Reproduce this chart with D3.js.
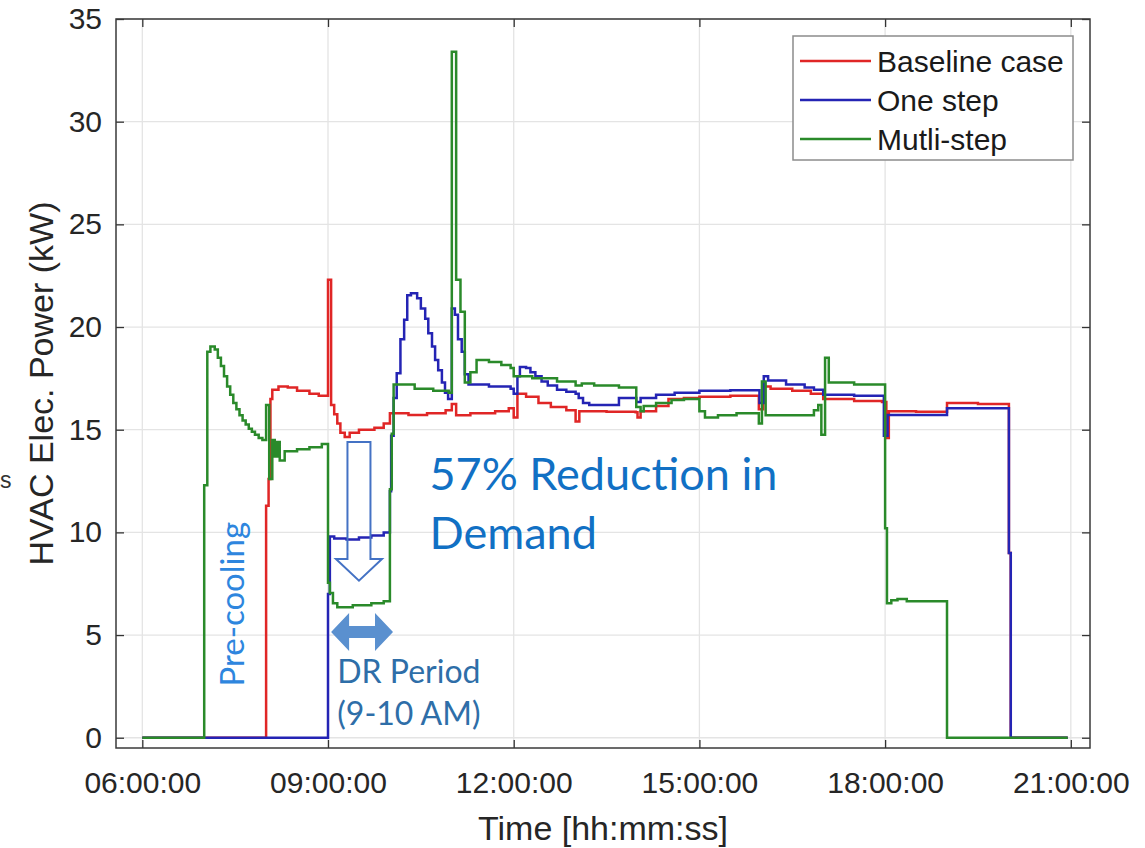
<!DOCTYPE html>
<html>
<head>
<meta charset="utf-8">
<script src="https://cdn.jsdelivr.net/npm/d3@7"></script>
<style>
  body { margin: 0; background: #fff; }
  .axis text { font-family: "Liberation Sans", Arial, sans-serif; font-size: 30px; fill: #262626; }
  .axis line { stroke: #333; stroke-width: 1.3; }
  .axis path { display: none; }
</style>
</head>
<body>
<svg id="chart" width="1145" height="848"></svg>
<script>
// x in hours of the day, y in kW
const hourTicks = [6, 9, 12, 15, 18, 21];
const kwTicks = [0, 5, 10, 15, 20, 25, 30, 35];
const seriesNames = ['Baseline case', 'One step', 'Mutli-step'];

const baseline = [
  [6.00, 0], [8.00, 11.3], [8.04, 12.6], [8.07, 16.5], [8.10, 16.95], [8.20, 17.1], [8.35, 17.05],
  [8.50, 16.9], [8.70, 16.75], [8.85, 16.65], [9.00, 22.3], [9.05, 16.2], [9.10, 15.75], [9.15, 15.3],
  [9.20, 14.85], [9.27, 14.65], [9.35, 14.85], [9.50, 15.0], [9.75, 15.1], [9.90, 15.3], [10.00, 15.8],
  [10.30, 15.72], [10.60, 15.8], [10.90, 15.95], [11.00, 16.25], [11.07, 15.7], [11.30, 15.8],
  [11.70, 15.9], [11.92, 16.05], [12.00, 15.6], [12.06, 16.75], [12.20, 16.6], [12.40, 16.3],
  [12.60, 16.1], [12.85, 15.95], [13.00, 15.4], [13.06, 15.9], [13.50, 15.88], [13.97, 15.85],
  [14.00, 15.6], [14.05, 15.9], [14.30, 16.15], [14.50, 16.5], [14.75, 16.55], [15.00, 16.6],
  [15.50, 16.65], [15.96, 16.0], [16.03, 17.1], [16.15, 17.0], [16.50, 16.9], [16.80, 16.75],
  [17.00, 16.5], [17.50, 16.4], [17.95, 16.35], [18.02, 14.6], [18.06, 15.9], [18.50, 15.88],
  [19.00, 16.3], [19.50, 16.25], [20.00, 9.0], [20.03, 0], [20.95, 0]
];

const oneStep = [
  [6.00, 0], [9.00, 7.0], [9.03, 9.8], [9.10, 9.7], [9.30, 9.65], [9.50, 9.75], [9.70, 9.85],
  [9.90, 10.0], [10.00, 12.0], [10.02, 14.7], [10.06, 16.55], [10.11, 17.75], [10.17, 19.4],
  [10.23, 20.35], [10.28, 21.55], [10.34, 21.65], [10.44, 21.4], [10.50, 20.9], [10.57, 20.4],
  [10.62, 19.7], [10.68, 19.05], [10.73, 18.4], [10.78, 17.9], [10.84, 17.3], [10.89, 16.8],
  [10.94, 16.5], [11.00, 20.9], [11.05, 20.6], [11.10, 19.4], [11.16, 18.8], [11.21, 17.7],
  [11.27, 17.2], [11.60, 17.1], [11.95, 17.0], [12.00, 16.75], [12.06, 17.6], [12.10, 18.05],
  [12.20, 18.0], [12.27, 17.8], [12.35, 17.6], [12.45, 17.35], [12.55, 17.15], [12.70, 16.95],
  [12.85, 16.85], [13.00, 16.75], [13.05, 16.55], [13.12, 16.3], [13.22, 16.2], [13.70, 16.55],
  [13.98, 16.35], [14.05, 16.55], [14.30, 16.7], [14.60, 16.8], [15.00, 16.9], [15.50, 16.92],
  [15.97, 16.3], [16.04, 17.6], [16.11, 17.4], [16.40, 17.2], [16.70, 17.05], [16.85, 16.95],
  [17.00, 16.7], [17.50, 16.65], [17.98, 14.7], [18.04, 15.72], [19.00, 16.05], [20.00, 9.0],
  [20.03, 0], [20.95, 0]
];

const multiStep = [
  [6.00, 0], [7.00, 12.3], [7.05, 18.8], [7.10, 19.05], [7.17, 18.9], [7.22, 18.5], [7.27, 18.1],
  [7.32, 17.6], [7.37, 17.1], [7.42, 16.7], [7.47, 16.3], [7.52, 16.0], [7.57, 15.7], [7.62, 15.45],
  [7.67, 15.25], [7.72, 15.05], [7.77, 14.9], [7.82, 14.75], [7.88, 14.6], [7.94, 14.5], [8.00, 16.2],
  [8.05, 12.6], [8.10, 14.5], [8.14, 13.7], [8.18, 14.4], [8.22, 13.5], [8.30, 13.95], [8.50, 14.05],
  [8.70, 14.15], [8.90, 14.3], [9.00, 7.55], [9.03, 7.05], [9.08, 6.55], [9.15, 6.35], [9.40, 6.45],
  [9.70, 6.55], [9.90, 6.65], [10.00, 12.1], [10.03, 14.8], [10.06, 17.2], [10.40, 17.0],
  [10.70, 16.9], [10.95, 16.8], [11.00, 33.4], [11.07, 22.3], [11.14, 20.75], [11.21, 17.3],
  [11.30, 17.8], [11.40, 18.4], [11.60, 18.3], [11.80, 18.15], [11.95, 18.0], [12.00, 17.6],
  [12.30, 17.5], [12.70, 17.35], [13.00, 17.15], [13.10, 17.25], [13.30, 17.15], [13.70, 17.05],
  [13.98, 16.1], [14.05, 15.9], [14.10, 16.15], [14.30, 16.3], [14.55, 16.45], [14.75, 16.5],
  [15.00, 15.9], [15.09, 15.6], [15.30, 15.7], [15.60, 15.8], [15.96, 15.3], [16.01, 17.35],
  [16.07, 15.7], [16.85, 15.95], [16.92, 16.2], [16.97, 14.75], [17.03, 18.5], [17.09, 17.3],
  [17.50, 17.2], [18.00, 10.2], [18.03, 6.55], [18.10, 6.7], [18.20, 6.75], [18.35, 6.65],
  [19.00, 0], [20.95, 0]
];

const colors = ['#e02626', '#2424b4', '#2a8a2a'];
const allSeries = [baseline, oneStep, multiStep];

const margin = { top: 19, left: 116 };
const width = 1090 - 116;
const height = 748 - 19;

const svg = d3.select('#chart');
const g = svg.append('g')
  .attr('transform', `translate(${margin.left},${margin.top})`);

const x = d3.scaleLinear().domain([5.575, 21.31]).range([0, width]);
const y = d3.scaleLinear().domain([-0.5, 35]).range([height, 0]);

const pad = n => String(n).padStart(2, '0');

// grid
g.append('g').selectAll('line').data(hourTicks).enter().append('line')
  .attr('x1', d => x(d)).attr('x2', d => x(d))
  .attr('y1', 0).attr('y2', height)
  .attr('stroke', '#e4e4e4').attr('stroke-width', 1.3);
g.append('g').selectAll('line').data(kwTicks).enter().append('line')
  .attr('x1', 0).attr('x2', width)
  .attr('y1', d => y(d)).attr('y2', d => y(d))
  .attr('stroke', '#e4e4e4').attr('stroke-width', 1.3);

// axes
g.append('g').attr('class', 'axis')
  .attr('transform', `translate(0,${height})`)
  .call(d3.axisBottom(x).tickValues(hourTicks).tickSizeInner(-8).tickSizeOuter(0)
    .tickPadding(24).tickFormat(d => `${pad(d)}:00:00`));
g.append('g').attr('class', 'axis')
  .call(d3.axisTop(x).tickValues(hourTicks).tickSizeInner(-8).tickSizeOuter(0).tickFormat(''));
g.append('g').attr('class', 'axis')
  .call(d3.axisLeft(y).tickValues(kwTicks).tickSizeInner(-8).tickSizeOuter(0).tickPadding(14));
g.append('g').attr('class', 'axis')
  .attr('transform', `translate(${width},0)`)
  .call(d3.axisRight(y).tickValues(kwTicks).tickSizeInner(-8).tickSizeOuter(0).tickFormat(''));

// clip + lines
svg.append('defs').append('clipPath').attr('id', 'plot')
  .append('rect').attr('width', width).attr('height', height);

const line = d3.line()
  .x(d => x(d[0]))
  .y(d => y(d[1]))
  .curve(d3.curveStepAfter);

g.append('g').attr('clip-path', 'url(#plot)')
  .selectAll('path').data(allSeries).enter().append('path')
  .attr('d', line)
  .attr('fill', 'none')
  .attr('stroke', (d, i) => colors[i])
  .attr('stroke-width', 2.5)
  .attr('stroke-linejoin', 'miter');

// box
g.append('rect')
  .attr('width', width).attr('height', height)
  .attr('fill', 'none').attr('stroke', '#3a3a3a').attr('stroke-width', 1.5);

// axis titles
svg.append('text')
  .attr('x', margin.left + width / 2).attr('y', 840)
  .attr('text-anchor', 'middle')
  .style('font-family', '"Liberation Sans", Arial, sans-serif')
  .style('font-size', '34px').style('fill', '#262626')
  .text('Time [hh:mm:ss]');
svg.append('text')
  .attr('transform', `translate(53,${margin.top + height / 2}) rotate(-90)`)
  .attr('text-anchor', 'middle')
  .style('font-family', '"Liberation Sans", Arial, sans-serif')
  .style('font-size', '34px').style('fill', '#262626')
  .text('HVAC Elec. Power (kW)');
svg.append('text')
  .attr('x', 0).attr('y', 488)
  .style('font-family', '"Liberation Sans", Arial, sans-serif')
  .style('font-size', '23px').style('fill', '#333')
  .text('s');

// legend
const lg = svg.append('g').attr('transform', 'translate(793,36)');
lg.append('rect').attr('width', 280).attr('height', 124)
  .attr('fill', '#fff').attr('stroke', '#8c8c8c').attr('stroke-width', 1.5);
const rows = lg.selectAll('g.row').data(seriesNames).enter().append('g')
  .attr('transform', (d, i) => `translate(0,${25 + i * 39})`);
rows.append('line').attr('x1', 7).attr('x2', 78)
  .attr('stroke', (d, i) => colors[i]).attr('stroke-width', 2.5);
rows.append('text').attr('x', 84).attr('dy', '0.36em')
  .style('font-family', '"Liberation Sans", Arial, sans-serif')
  .style('font-size', '30px').style('fill', '#1a1a1a')
  .text(d => d);

// annotations
const ann = g.append('g');
const cx = x(9.5);
const arrowTop = y(14.4), headY = y(8.7), tipY = y(7.65);
ann.append('path')
  .attr('d', `M${cx - 11.5},${arrowTop} H${cx + 11.5} V${headY} H${cx + 23} L${cx},${tipY} L${cx - 23},${headY} H${cx - 11.5} Z`)
  .attr('fill', 'none').attr('stroke', '#4472c4').attr('stroke-width', 2);

const x0 = x(9.05), x1 = x(10.05), cy = y(5.15);
ann.append('path')
  .attr('d', `M${x0},${cy} L${x0 + 18},${cy - 19} V${cy - 6} H${x1 - 18} V${cy - 19} L${x1},${cy} L${x1 - 18},${cy + 19} V${cy + 6} H${x0 + 18} V${cy + 19} Z`)
  .attr('fill', '#5a90cf');

ann.append('text')
  .attr('x', x(10.64)).attr('y', y(12.05))
  .style('font-family', 'Lato, sans-serif').style('font-size', '45px').style('fill', '#1170c4')
  .text('57% Reduction in');
ann.append('text')
  .attr('x', x(10.64)).attr('y', y(9.2))
  .style('font-family', 'Lato, sans-serif').style('font-size', '45px').style('fill', '#1170c4')
  .text('Demand');

ann.append('text')
  .attr('transform', `translate(${x(7.64)},${y(6.5)}) rotate(-90)`)
  .attr('text-anchor', 'middle')
  .style('font-family', 'Lato, sans-serif').style('font-size', '33px').style('fill', '#2e86de')
  .text('Pre-cooling');

ann.append('text')
  .attr('x', x(9.15)).attr('y', y(2.65))
  .style('font-family', 'Lato, sans-serif').style('font-size', '32px').style('fill', '#2e6ea8')
  .text('DR Period');
ann.append('text')
  .attr('x', x(9.15)).attr('y', y(0.6))
  .style('font-family', 'Lato, sans-serif').style('font-size', '32px').style('fill', '#2e6ea8')
  .text('(9-10 AM)');
</script>
</body>
</html>
